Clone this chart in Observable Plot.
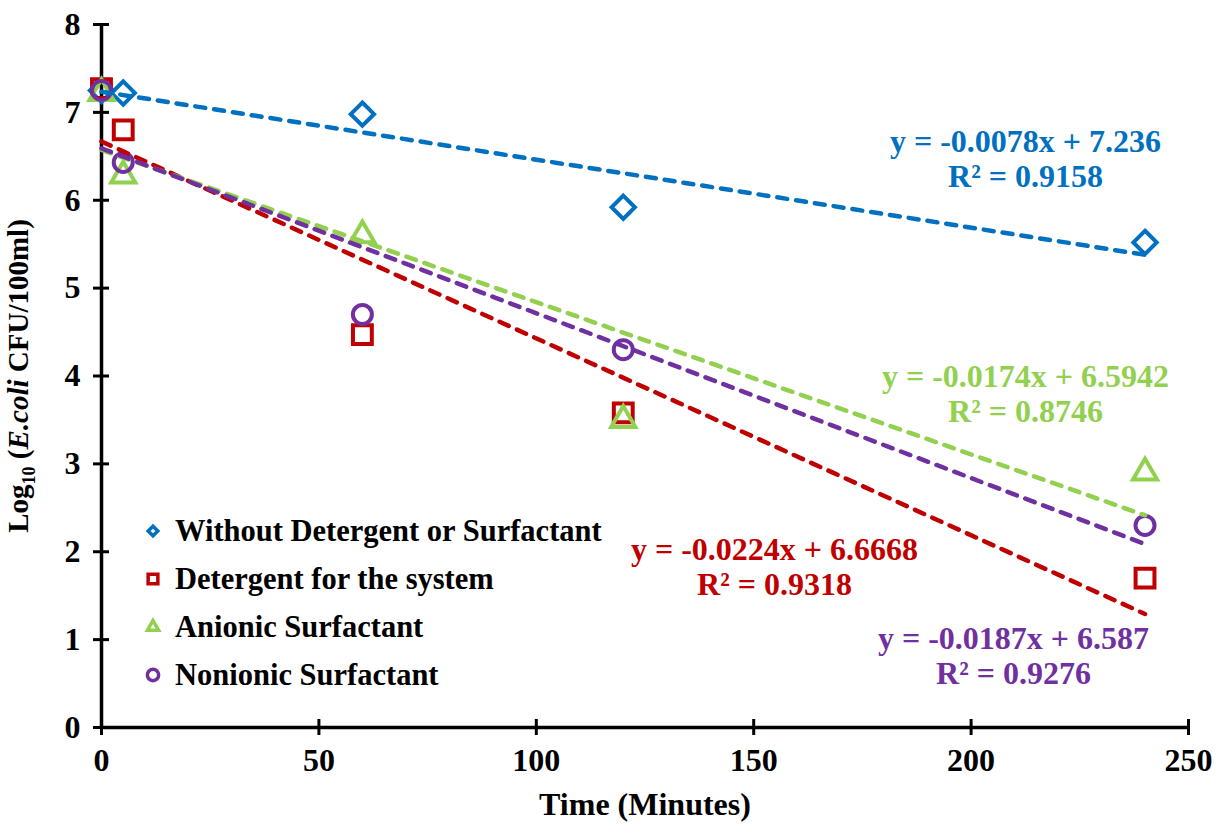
<!DOCTYPE html>
<html><head><meta charset="utf-8">
<script src="https://cdn.jsdelivr.net/npm/d3@7"></script>
<script src="https://cdn.jsdelivr.net/npm/@observablehq/plot@0.6"></script>
<style>
body{margin:0;background:#fff;}
#wrap{position:relative;width:1221px;height:825px;font-family:"Liberation Serif","Times New Roman",serif;font-weight:bold;}
#legend{position:absolute;left:140px;top:507px;}
.item{display:flex;align-items:center;height:48px;font-size:30.5px;color:#000;white-space:nowrap}
.item svg{margin-right:9px}
</style></head><body><div id="wrap"></div>
<script>
// ---- data ----
const times = [0, 5, 60, 120, 240];
const seriesNames = ["Without Detergent or Surfactant", "Detergent for the system", "Anionic Surfactant", "Nonionic Surfactant"];
const withoutVals   = [7.25, 7.22, 6.98, 5.92, 5.52];
const detergentVals = [7.27, 6.80, 4.47, 3.58, 1.70];
const anionicVals   = [7.22, 6.28, 5.60, 3.50, 2.90];
const nonionicVals  = [7.25, 6.43, 4.70, 4.30, 2.30];
const equations = ["y = -0.0078x + 7.236", "y = -0.0224x + 6.6668", "y = -0.0174x + 6.5942", "y = -0.0187x + 6.587"];
const rSquared  = ["R² = 0.9158", "R² = 0.9318", "R² = 0.8746", "R² = 0.9276"];
const xTicks = [0, 50, 100, 150, 200, 250];
const yTicks = [0, 1, 2, 3, 4, 5, 6, 7, 8];

// ---- styling ----
const colors  = ["#0070C0", "#C00000", "#92D050", "#7030A0"];
const symbols = ["diamond2", "square2", "triangle2", "circle"];
const radii   = [10.5, 12, 11.5, 9.5];
const eqOffsets = [[924, 134], [673, 542], [924, 369], [912, 631]];
const valuesBySeries = [withoutVals, detergentVals, anionicVals, nonionicVals];

const tables = valuesBySeries.map((vals, i) => times.map((t, j) => ({series: seriesNames[i], time: t, value: vals[j]})));

const W = 1221, H = 825;
const fmt = d3.format("d");
const marks = [];
// axis lines
marks.push(Plot.ruleX([0], {stroke: "#000", strokeWidth: 3.5}));
marks.push(Plot.ruleY([0], {stroke: "#000", strokeWidth: 3.5}));
// crossing ticks: outward part + inward part
marks.push(Plot.axisY(yTicks, {tickSize: 8, tickFormat: () => "", strokeWidth: 3, label: null}));
marks.push(Plot.axisY(yTicks, {tickSize: 8, dx: 8, tickFormat: () => "", strokeWidth: 3, label: null}));
marks.push(Plot.axisX(xTicks, {tickSize: 8, tickFormat: () => "", strokeWidth: 3, label: null}));
marks.push(Plot.axisX(xTicks, {tickSize: 8, dy: -8, tickFormat: () => "", strokeWidth: 3, label: null}));
// labels
marks.push(Plot.axisY(yTicks, {tickSize: 0, tickPadding: 21, tickFormat: fmt, fontSize: 32, fontWeight: "bold", label: "Log10 (E.coli CFU/100ml)", labelAnchor: "center", labelOffset: 94, labelArrow: "none"}));
marks.push(Plot.axisX(xTicks, {tickSize: 0, tickPadding: 21, tickFormat: fmt, fontSize: 32, fontWeight: "bold", label: "Time (Minutes)", labelAnchor: "center", labelOffset: 87, labelArrow: "none"}));

tables.forEach((tbl, i) => {
  marks.push(Plot.dot(tbl, {x: "time", y: "value", symbol: () => symbols[i], r: radii[i], stroke: colors[i], strokeWidth: 4, fill: "none"}));
});
tables.forEach((tbl, i) => {
  marks.push(Plot.linearRegressionY(tbl, {x: "time", y: "value", stroke: colors[i], strokeWidth: 4.5, strokeDasharray: "10,9", strokeLinecap: "round", ci: 0}));
});
equations.forEach((eq, i) => {
  marks.push(Plot.text([eq + "\n" + rSquared[i]], {text: d => d, frameAnchor: "top-left", dx: eqOffsets[i][0], dy: eqOffsets[i][1], textAnchor: "middle", lineAnchor: "middle", lineHeight: 1.1, fill: colors[i], fontSize: 32, fontWeight: "bold"}));
});

const chart = Plot.plot({
  width: W, height: H,
  marginLeft: 101, marginRight: 33, marginTop: 24, marginBottom: 98,
  x: {domain: [0, 250], ticks: xTicks},
  y: {domain: [0, 8], ticks: yTicks},
  symbol: {type: "identity"},
  style: {fontFamily: '"Liberation Serif", "Times New Roman", serif', fontWeight: "bold", color: "#000", background: "#fff", overflow: "visible"},
  marks
});
document.getElementById("wrap").appendChild(chart);

// rich y-axis label (subscript + italic)
const yl = chart.querySelector('g[aria-label="y-axis label"] text');
if (yl) {
  yl.textContent = "";
  const ns = "http://www.w3.org/2000/svg";
  const parts = [["Log", {}], ["10", {"font-size": "18", dy: "7"}], [" (", {dy: "-7"}], ["E.coli", {"font-style": "italic"}], [" CFU/100ml)", {}]];
  parts.forEach(([t, attrs]) => {
    const ts = document.createElementNS(ns, "tspan");
    for (const k in attrs) ts.setAttribute(k, attrs[k]);
    ts.textContent = t;
    yl.appendChild(ts);
  });
  yl.setAttribute("font-size", "29");
}

// legend
const legend = document.createElement("div");
legend.id = "legend";
const legSizes = [60, 120, 90, 100];
seriesNames.forEach((name, i) => {
  const item = document.createElement("div");
  item.className = "item";
  const sym = {diamond2: d3.symbolDiamond2, square2: d3.symbolSquare2, triangle2: d3.symbolTriangle2, circle: d3.symbolCircle}[symbols[i]];
  const svg = d3.create("svg").attr("width", 26).attr("height", 26);
  svg.append("path").attr("transform", "translate(13,13)").attr("d", d3.symbol(sym, legSizes[i])())
    .attr("fill", "none").attr("stroke", colors[i]).attr("stroke-width", 3.5);
  item.appendChild(svg.node());
  const span = document.createElement("span");
  span.textContent = name;
  item.appendChild(span);
  legend.appendChild(item);
});
document.getElementById("wrap").appendChild(legend);
</script></body></html>
